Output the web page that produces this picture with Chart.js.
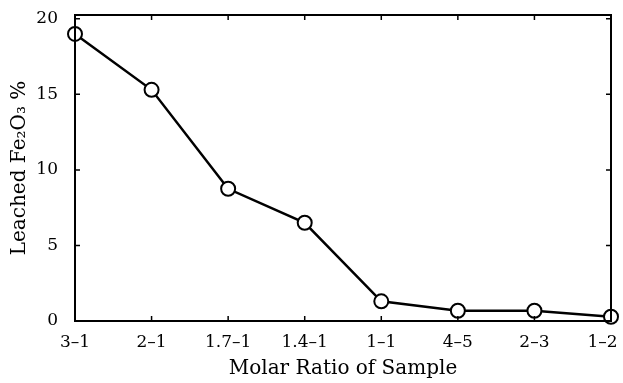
<!DOCTYPE html>
<html>
<head>
<meta charset="utf-8">
<script src="https://cdn.jsdelivr.net/npm/chart.js@4/dist/chart.umd.min.js"></script>
<style>
  html, body { margin: 0; padding: 0; background: #fff; }
  #wrap { width: 623px; height: 383px; }
</style>
</head>
<body>
<div id="wrap"><canvas id="leachChart" width="623" height="383"></canvas></div>
<script>
// Leached Fe2O3 vs molar ratio
const ratios = ['3\u20131', '2\u20131', '1.7\u20131', '1.4\u20131', '1\u20131', '4\u20135', '2\u20133', '1\u20132'];
const leached = [19.0, 15.3, 8.75, 6.5, 1.3, 0.68, 0.68, 0.28];
const yTicks = [0, 5, 10, 15, 20];

const serif = '"DejaVu Serif", "Liberation Serif", serif';

// frame + inward tick marks
const framePlugin = {
    id: 'frame',
    afterDraw(chart) {
        const { ctx, chartArea: a, scales } = chart;
        ctx.save();
        ctx.strokeStyle = '#000';
        ctx.lineWidth = 2;
        ctx.strokeRect(a.left, a.top, a.right - a.left, a.bottom - a.top);
        ctx.lineWidth = 1.5;
        ctx.beginPath();
        yTicks.forEach(v => {
            const y = scales.y.getPixelForValue(v);
            ctx.moveTo(a.left, y); ctx.lineTo(a.left + 5, y);
            ctx.moveTo(a.right, y); ctx.lineTo(a.right - 5, y);
        });
        ratios.forEach((r, i) => {
            const x = scales.x.getPixelForValue(i);
            ctx.moveTo(x, a.bottom); ctx.lineTo(x, a.bottom - 5);
            ctx.moveTo(x, a.top); ctx.lineTo(x, a.top + 5);
        });
        ctx.stroke();
        ctx.restore();
    }
};

new Chart(document.getElementById('leachChart'), {
    type: 'line',
    data: {
        labels: ratios,
        datasets: [{
            data: leached,
            borderColor: '#000',
            borderWidth: 2.5,
            backgroundColor: '#fff',
            pointBackgroundColor: '#fff',
            pointBorderColor: '#000',
            pointBorderWidth: 2,
            pointRadius: 7,
            tension: 0,
            clip: false
        }]
    },
    options: {
        responsive: false,
        animation: false,
        layout: { padding: { top: 15, right: 12, left: 0, bottom: 0 } },
        plugins: { legend: { display: false }, tooltip: { enabled: false } },
        scales: {
            x: {
                type: 'category',
                offset: false,
                grid: { display: false, drawTicks: false },
                border: { display: false },
                ticks: {
                    color: '#000', padding: 11, maxRotation: 0, autoSkip: false,
                    font: { family: serif, size: 17 },
                    // nudge the last label left so it stays inside the canvas
                    callback: (v, i) => i === ratios.length - 1 ? ratios[i] + '\u2003' : ratios[i]
                },
                title: {
                    display: true,
                    text: 'Molar Ratio of Sample',
                    color: '#000',
                    font: { family: serif, size: 20 },
                    padding: { top: 0, bottom: 2 }
                },
                afterFit: s => { s.height = 62; s.paddingLeft = 0; s.paddingRight = 0; }
            },
            y: {
                min: 0,
                max: 20.25,
                afterBuildTicks: s => { s.ticks = yTicks.map(v => ({ value: v })); },
                grid: { display: false, drawTicks: false },
                border: { display: false },
                ticks: { color: '#000', padding: 17, font: { family: serif, size: 17 } },
                title: {
                    display: true,
                    text: 'Leached Fe\u2082O\u2083 %',
                    color: '#000',
                    font: { family: serif, size: 20 },
                    padding: { top: 8, bottom: 0 }
                },
                afterFit: s => { s.width = 75; s.paddingTop = 0; s.paddingBottom = 0; }
            }
        }
    },
    plugins: [framePlugin]
});
</script>
</body>
</html>
